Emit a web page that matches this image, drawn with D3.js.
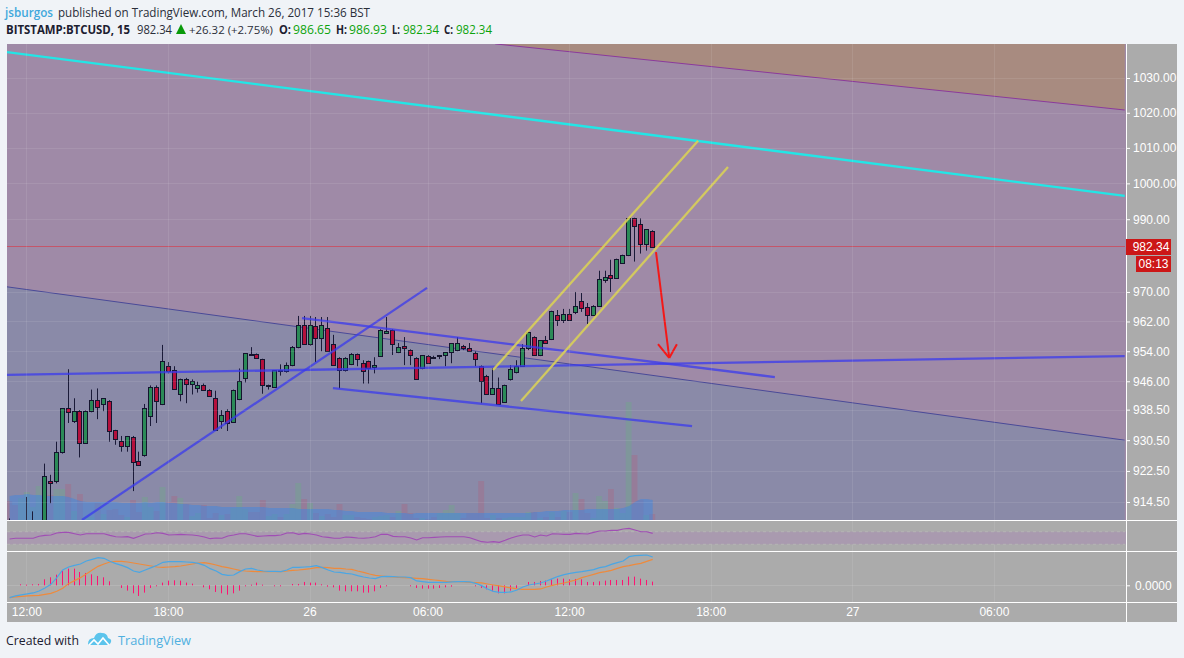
<!DOCTYPE html>
<html><head><meta charset="utf-8">
<script src="https://d3js.org/d3.v7.min.js"></script>
<style>html,body{margin:0;padding:0;background:#f0f3f7}svg{display:block}</style>
</head><body><svg id="c" width="1184" height="658"></svg>
<script>
// bar index 0 = 12:00 on March 25; first bar is index -3
const firstBar = -3;
const opens = [909,906,905,909.8,907,906,908,919.9,919.9,927.5,
938.9,935.5,938.1,929.8,938.1,941,940,940.7,933.1,930.3,
929,931.4,925.1,926.7,936.8,944.6,940,950,948.9,942.7,
946.7,945.4,944.3,945.1,943.8,941.5,935.5,938.1,935.3,941.3,
947,953.2,953.2,951.9,944.9,944.6,949,948.6,950.3,955.1,
961.1,955.9,960.8,957.6,960.3,955.9,952.2,948.9,950.5,953.2,
950.8,951.3,949.7,952.7,958.9,959.7,953.8,955.4,954.3,952.2,
949.4,952.7,952.5,952.9,953,953.8,954.3,955.4,954.8,953.5,
950,947.5,942.7,944.1,940.5,946.7,948.4,950,954.8,957.8,
953,957,957.3,963.8,962.4,964,964.6,967.5,965.9,963.8,
966.2,973.3,974.7,973.9,978,980,990.2,988.8,983,986.65];
const highs = [910.3,908,907,915.8,912.1,909,924.4,921.5,930.1,938.9,
949.2,941.5,938.4,938.3,943.8,944.1,941.5,941,933.2,931.6,
931.6,931.6,927.5,940,944.9,944.9,955.7,951.1,950,946.7,
946.9,946.5,945.9,945.4,943.9,943.5,938.4,938.6,943.8,949.4,
953.5,955.1,953.4,952,945.1,948.9,950.5,951,955.4,963.5,
963.5,963.5,963.2,963.2,963.2,958.4,952.4,952.4,953.5,953.4,
951.6,951.5,952.4,959.9,963.2,959.9,956.2,957.8,954.5,952.4,
953,953,952.8,953,953.8,956.2,957.8,955.7,956.2,954,
950.2,947.7,949.4,947,945.1,950.3,951.6,955.9,959.2,958,
957,958.1,964.9,965.1,965.4,965.4,970,969.7,967,966.4,
975.8,975.8,978.8,979.1,980.2,990.2,990.4,990.2,987.2,986.93];
const lows = [905,904,903,907,905,904,906,914.2,919.3,927,
935,935,926,929.5,937.8,936,938.1,930.1,929.3,927.5,
927.5,917.3,924,926.2,934.2,935,939.7,948.1,943.8,940.7,
940.2,942.5,943,943.8,942,933.2,933.5,932.9,935,941,
945.7,953,952,942.7,943.8,944.3,947.5,948.3,950,954.8,
955.9,955.5,951.1,954,954,950.3,944.1,948.6,950.3,950,
945.4,945.4,948.1,952.5,958.7,953,953.5,950.3,950.3,946.5,
949.2,950.6,952.3,951.9,950,950.8,954,954.3,953.9,950,
940.2,942.7,942.5,940,940.3,946.2,948.1,949.8,954.3,953,
952.7,956,957,960.8,961.6,962.4,964,964.6,961.3,963.5,
966,972.5,970,973.7,977.8,979.8,978.3,980.5,981.3,982.34];
const closes = [908,905,906,910,908,908,921.2,919.5,927.5,938.9,
937.9,938.1,929.8,938.1,941,939.2,941.5,932.9,930.9,929,
931.6,924.9,924.1,938.9,944.6,940.7,951.3,948.6,943.9,946.7,
945.4,946.2,945.1,943.8,942,933.2,937,935,943.8,946.2,
953.5,953,952.2,944.9,945,948.9,948.9,950.3,955.1,961.1,
955.9,961.1,957.6,961.1,954,950.3,948.9,952.2,953.2,951.9,
948.6,949.4,950.3,959.7,959.5,955.9,955.1,954.8,953,946.5,
953,950.8,952.4,953,953.8,956.2,956.2,954.8,954,951.9,
946,942.7,944.1,940,945.1,949.2,950,954.8,959.2,953,
957,956.2,964.9,962.4,964,962.4,966.2,965.7,963.8,966.2,
973.6,974.2,973.9,979.1,980,990.2,988,983,987.2,982.34];
const volumes = [19,15,22,28,13,34,19,25,31,31,
36,9,26,3,3,17,6,10,11,5,
3,20,8,23,13,9,33,18,24,22,
16,4,7,15,2,7,5,6,12,24,
11,8,8,20,4,6,3,6,16,37,
21,17,7,4,6,3,16,5,5,3,
2,1,3,4,5,3,9,16,7,2,
2,1,3,7,10,15,7,2,7,7,
39,2,5,2,2,3,3,3,8,8,
2,3,8,3,9,8,27,21,7,2,
24,19,31,12,7,118,65,20,5,6];
const volumeMA = [24,25,25,26,25,25,24,24,24,24,
23,21,19,18,18,18,18,18,18,17,
17,17,17,18,17,18,18,17,17,16,
16,15,15,14,14,14,13,13,13,13,
13,13,13,13,12,12,12,12,12,11,
11,11,11,11,11,10,10,9,9,8,
8,8,8,8,7,7,7,7,6,7,
7,7,7,7,7,7,7,7,7,7,
7,7,7,7,7,7,7,7,7,8,
8,9,9,9,10,10,10,10,11,11,
11,11,11,11,12,14,18,21,21,20];
const rsi = [46.8,49,49,49,49,55.3,58.4,59.5,65.8,67.9,
67.9,63.7,59.5,63.7,63.7,63.7,63.7,58.4,54.2,53.2,
54.2,49,55.3,62.6,63.7,66.8,64.7,59.5,60.5,61.6,
60.5,59.5,57.4,53.2,47.9,50,49,56.3,59.5,63.7,
63.7,59.5,55.3,56.3,57.4,57.4,59.5,65.8,66.8,61.6,
64.7,62.6,59.5,54.2,52.1,49,
49,53.2,52.1,50,49,51,54.2,61.6,61.6,55.3,
54.2,54.2,50,43.7,51,51,52.1,53.2,54.2,54.2,
54.2,54.2,51,44.7,38.4,36.3,38.4,36.3,42.6,50,
55.3,59.5,59.5,53.2,59.5,56.3,63.7,62.6,61.6,61.6,
64.7,63.7,62.6,67.9,72.1,72.1,74.2,74.2,78.4,80.5,
75.3,70,70,64.7];
const macdLine = [-3.7,-3.2,-2.9,-2.6,-2.3,-1.7,-.8,.3,2.3,4.6,
5.5,6,6.4,7.3,7.8,8.3,8.1,7.2,6.5,6,
5.3,4.3,3.9,4.6,5.3,6,6.9,7.1,7.1,7.1,
7,6.9,6.6,6,5,4.3,3.3,3,3.1,4.1,
4.9,5.1,4.6,4.3,4.2,4.2,4.1,4.6,5.4,5.4,
5.5,5.6,5.9,5.3,4.6,4,
3.9,3.6,3.4,2.9,2.5,2.2,2,2.6,2.7,2.6,
2.5,2.5,2.3,1.3,1.1,.9,.9,.9,.9,1,
1.1,1.1,1,.6,-.1,-1.1,-1.8,-2.1,-2.1,-2,
-1.4,-.5,.1,.4,.7,1.3,2,2.7,3.2,3.6,
3.9,4.1,4.4,4.7,5.3,5.6,6.3,6.8,7.3,8.6,
8.9,9,9.1,8.5];
const signalLine = [-3.7,-3.5,-3.3,-3.2,-3.1,-3,-2.7,-2.4,-1.8,-.9,
.5,1.4,2.3,3.4,4.6,5.7,6.4,7,7.2,7.2,
7,6.7,6.4,6.1,5.8,5.5,5.4,5.5,5.6,5.8,
6.1,6.4,6.7,6.8,6.5,6.1,5.6,5.3,4.9,4.5,
4.3,4.2,4.1,4.1,4.1,4.1,4.1,4.3,4.5,4.6,
4.8,5,5.3,5.4,5.3,5.1,
5.1,4.9,4.8,4.3,3.9,3.4,3,2.8,2.6,2.5,
2.4,2.3,2.2,2.1,2,1.8,1.6,1.4,1.2,1.1,
1.1,1,.9,.8,.7,.4,.1,-.2,-.5,-.8,
-1.1,-1.2,-1.2,-1.2,-1.1,-.5,0,.4,.7,1.2,
1.6,2.3,2.8,3.3,3.8,4.1,4.5,5.1,5.6,5.9,
6.3,6.6,7.2,7.8];
const histogram = [0,0,.3,.2,.3,.4,1.8,2.4,3.2,4.3,
5,5,4,3.7,3.3,2.8,2.4,1.2,0,-.8,
-1.6,-2.4,-3.2,-2.2,-.8,-.3,.8,1.4,1.5,1.4,
.8,.5,0,-.6,-1.2,-2,-2.4,-2.8,-2.4,-1.6,
-.3,.2,.8,.2,0,-.2,-.2,0,.4,.4,
1,.8,.8,.3,-.4,-.6,
-1.6,-1.8,-1.8,-1.8,-2.2,-2.2,-1.8,-.8,-.3,0,
0,0,-.3,-.8,-1,-1,-1,-.8,-.6,-.4,
0,0,0,-.3,-.8,-1.2,-1.8,-2.4,-2.4,-1.6,
-.8,0,1,1,1.3,1.4,1.8,2,2,1.8,
1.9,1.8,1,1,1.2,1.4,1.6,1.6,1.6,2.6,
2.6,2,1.6,1.1];
const priceTicks = [1030,1020,1010,1000,990,970,962,954,946,938.5,930.5,922.5,914.5];
const timeTickBars = [0,24,48,68,92,116,140,164];
const timeTickLabels = ["12:00","18:00","26","06:00","12:00","18:00","27","06:00"];
// drawings: [barA, priceA, barB, priceB]
const cyanLine = [-3.44,1037.5,186,996.5];
const upperBoundary = [79.3,1039.9,186,1020.8];
const lowerBoundary = [-3.44,971.4,186,930.5];
const blueLines = [[-3.44,947.7,186,952.7],[9.27,909.9,67.75,971.1],[46.56,962.9,126.7,947.1],[51.8,944.2,112.67,934.2]];
const yellowLines = [[78.93,949,113.7,1012],[83.68,940.8,118.76,1004.6]];
const arrowLines = [[106.56,980.9,108.8,952.2],[106.9,955.9,108.8,952.2],[110.1,955.9,108.8,952.2]];
const lastPrice = 982.34, countdown = "08:13";

const L=7,R=1125,AX=1177,T=44,MB=520,BOT=622;
const svg=d3.select("#c");
const x=d3.scaleLinear().domain([0,100]).range([27.3,617.3]);
const y=d3.scaleLog().domain([1030,914.5]).range([78,502]);
const yVol=d3.scaleLinear().domain([0,100]).range([520,420]);
const yRsi=d3.scaleLinear().domain([30,70]).range([544.3,531.7]);
const yMacd=d3.scaleLinear().domain([0,10]).range([585.3,552]);
const bars=opens.map((o,k)=>({i:k+firstBar,o,h:highs[k],l:lows[k],c:closes[k],v:volumes[k],ma:volumeMA[k],rsi:rsi[k],m:macdLine[k],s:signalLine[k],hist:histogram[k]}));

svg.append("rect").attr("x",L).attr("y",T).attr("width",AX-L).attr("height",BOT-T).attr("fill","#ababab");
const defs=svg.append("defs");
defs.append("clipPath").attr("id","main").append("rect").attr("x",L).attr("y",T).attr("width",R-L+1).attr("height",MB-T);
defs.append("clipPath").attr("id","full").append("rect").attr("x",L).attr("y",T).attr("width",R-L+1).attr("height",BOT-T);
const main=svg.append("g").attr("clip-path","url(#main)");
main.append("rect").attr("x",L).attr("y",T).attr("width",R-L+1).attr("height",MB-T).attr("fill","#9f8aa7");
const seg=d=>d3.line()([[x(d[0]),y(d[1])],[x(d[2]),y(d[3])]]);
const poly=(d,yEdge)=>{const a=[x(d[0]),y(d[1])],b=[x(d[2]),y(d[3])];
  return d3.line()([a,b,[b[0],yEdge],[a[0],yEdge]])+"Z";};
main.append("path").attr("d",poly(upperBoundary,T-300)).attr("fill","#a88b80");
main.append("path").attr("d",poly(lowerBoundary,MB+300)).attr("fill","#8a8aa8");

// grid
const grid=svg.append("g").attr("clip-path","url(#full)");
grid.selectAll(".v").data(timeTickBars).join("line").attr("x1",d=>Math.round(x(d))-.5).attr("x2",d=>Math.round(x(d))-.5)
  .attr("y1",T).attr("y2",602).attr("stroke","#fff").attr("stroke-opacity",.09);
grid.selectAll(".h").data(priceTicks).join("line").attr("x1",L).attr("x2",R).attr("y1",d=>Math.round(y(d))+.5).attr("y2",d=>Math.round(y(d))+.5)
  .attr("stroke","#fff").attr("stroke-opacity",.09);
grid.append("line").attr("x1",L).attr("x2",R).attr("y1",Math.round(yMacd(0))+.5).attr("y2",Math.round(yMacd(0))+.5).attr("stroke","#fff").attr("stroke-opacity",.12);

// volume
main.selectAll(".vol").data(bars).join("rect").attr("x",d=>x(d.i)-3.4).attr("width",5.9)
  .attr("y",d=>yVol(d.v)).attr("height",d=>yVol(0)-yVol(d.v))
  .attr("fill",d=>d.c>=d.o?"#6fa88a":"#a86a85").attr("fill-opacity",.42);
main.append("path").attr("d",d3.area().x(d=>x(d.i)).y0(yVol(0)).y1(d=>yVol(d.ma))(bars)).attr("fill","#3f86e0").attr("fill-opacity",.5);

// drawings under candles
main.append("line").attr("x1",L).attr("x2",R).attr("y1",Math.round(y(lastPrice))-.5).attr("y2",Math.round(y(lastPrice))-.5).attr("stroke","#c4566a");
main.append("path").attr("d",seg(upperBoundary)).attr("stroke","#8b3a9c").attr("fill","none");
main.append("path").attr("d",seg(lowerBoundary)).attr("stroke","#4a4a98").attr("fill","none");

// candles
const col=d=>d.c>=d.o?"#2b8a57":"#b4103c";
main.selectAll(".wick").data(bars).join("line").attr("x1",d=>Math.round(x(d.i))-.5).attr("x2",d=>Math.round(x(d.i))-.5)
  .attr("y1",d=>y(d.h)).attr("y2",d=>y(d.l)).attr("stroke","#1a1a38");
main.selectAll(".body").data(bars).join("rect").attr("x",d=>Math.round(x(d.i))-2.5).attr("width",4)
  .attr("y",d=>Math.round(y(Math.max(d.o,d.c)))+.5).attr("height",d=>Math.max(1,Math.round(y(Math.min(d.o,d.c)))-Math.round(y(Math.max(d.o,d.c)))))
  .attr("fill",col).attr("stroke","#14142e");

// trend lines
main.append("path").attr("d",seg(cyanLine)).attr("stroke","#22e6e6").attr("stroke-width",2.4).attr("fill","none");
main.selectAll(".bl").data(blueLines).join("path").attr("d",seg).attr("stroke","#3a3aee").attr("stroke-opacity",.75).attr("stroke-width",2.3).attr("fill","none");
main.selectAll(".yl").data(yellowLines).join("path").attr("d",seg).attr("stroke","#d8cf58").attr("stroke-opacity",.9).attr("stroke-width",2.3).attr("fill","none");
main.selectAll(".ar").data(arrowLines).join("path").attr("d",seg).attr("stroke","#f41818").attr("stroke-width",2).attr("fill","none");

// RSI pane
const rsiG=svg.append("g");
rsiG.append("rect").attr("x",L).attr("y",yRsi(70)).attr("width",R-L+1).attr("height",yRsi(30)-yRsi(70)).attr("fill","#a99aaf");
[70,30].forEach(v=>rsiG.append("line").attr("x1",L).attr("x2",R).attr("y1",yRsi(v)).attr("y2",yRsi(v)).attr("stroke","#b4b4b4").attr("stroke-dasharray","3 3"));
rsiG.append("path").attr("d",d3.line().x(d=>x(d.i)).y(d=>yRsi(d.rsi))(bars)).attr("fill","none").attr("stroke","#a04eb4").attr("stroke-width",1.1);

// MACD pane
const mG=svg.append("g");
mG.selectAll(".hist").data(bars.filter(d=>d.hist!==0)).join("rect")
  .attr("x",d=>Math.round(x(d.i))-1).attr("width",1)
  .attr("y",d=>Math.min(yMacd(0),yMacd(d.hist))).attr("height",d=>Math.max(1,Math.abs(yMacd(d.hist)-yMacd(0))))
  .attr("fill","#ff1272");
mG.append("path").attr("d",d3.line().x(d=>x(d.i)).y(d=>yMacd(d.s))(bars)).attr("fill","none").attr("stroke","#ee8a3c").attr("stroke-width",1.2);
mG.append("path").attr("d",d3.line().x(d=>x(d.i)).y(d=>yMacd(d.m))(bars)).attr("fill","none").attr("stroke","#4aa6e4").attr("stroke-width",1.2);

// dividers
[[L,AX,520.5,520.5],[L,AX,551.5,551.5],[L,AX,602.5,602.5],[1126.5,1126.5,T,BOT]].forEach(s=>{
  svg.append("line").attr("x1",s[0]).attr("x2",s[1]).attr("y1",s[2]).attr("y2",s[3]).attr("stroke","#fff").attr("stroke-width",1);});

// axes
const fmtP=d=>d.toFixed(2);
const axisFont="'Liberation Sans',Arial,sans-serif";
const ga=svg.append("g").attr("transform","translate(1127,0)").call(d3.axisRight(y).tickValues(priceTicks).tickFormat(fmtP).tickSize(3).tickPadding(3));
ga.select(".domain").remove();
ga.selectAll("line").attr("stroke","#fff");
ga.selectAll("text").attr("fill","#fff").style("font","12px "+axisFont);
const gm=svg.append("g").attr("transform","translate(1127,0)").call(d3.axisRight(yMacd).tickValues([0]).tickFormat(d=>d.toFixed(4)).tickSize(3).tickPadding(5));
gm.select(".domain").remove();gm.selectAll("line").attr("stroke","#fff");gm.selectAll("text").attr("fill","#fff").style("font","12px "+axisFont);
const gx=svg.append("g").attr("transform","translate(-1,602)").call(d3.axisBottom(x).tickValues(timeTickBars).tickFormat((d,k)=>timeTickLabels[k]).tickSize(0).tickPadding(5));
gx.select(".domain").remove();gx.selectAll("text").attr("fill","#fff").style("font","12px "+axisFont);

// last price tags
svg.append("rect").attr("x",1126).attr("y",239).attr("width",45).attr("height",16).attr("fill","#cc1717");
svg.append("text").attr("x",1151).attr("y",251).attr("text-anchor","middle").attr("fill","#fff").style("font","12px "+axisFont).text(lastPrice.toFixed(2));
svg.append("rect").attr("x",1136).attr("y",256).attr("width",35).attr("height",16).attr("fill","#cc1717");
svg.append("text").attr("x",1153.5).attr("y",268).attr("text-anchor","middle").attr("fill","#fff").style("font","12px "+axisFont).text(countdown);

// header
const hf="'Open Sans','Noto Sans',sans-serif";
const put=(xp,xe,yb,t,fill,w,fs)=>svg.append("text").attr("x",xp).attr("y",yb).attr("fill",fill).attr("font-weight",w||400)
  .attr("textLength",xe-xp).attr("lengthAdjust","spacingAndGlyphs").style("font-family",hf).style("font-size",(fs||12.5)+"px").text(t);
const dk="#1c2030",tx="#2a2e39",gn="#0ca30c";
put(5,53,17,"jsburgos","#41a8dc",600);
put(58,370,17,"published on TradingView.com, March 26, 2017 15:36 BST",tx);
put(6,130,34,"BITSTAMP:BTCUSD, 15",dk,700,11.5);
put(137,172,34,"982.34",tx);
svg.append("path").attr("d",d3.line()([[176,34],[186,34],[181,24]])+"Z").attr("fill","#0a9a0a");
put(189,273,34,"+26.32 (+2.75%)",tx,400,11);
put(279,291,34,"O:",dk,700);put(293,331,34,"986.65",gn);
put(336,347,34,"H:",dk,700);put(349,387,34,"986.93",gn);
put(392,400,34,"L:",dk,700);put(403,439,34,"982.34",gn);
put(444,453,34,"C:",dk,700);put(456,492,34,"982.34",gn);

// footer
put(6,79,645,"Created with",dk);
svg.append("path").attr("d","M88 644 q0 -6 6 -6 q2 -6 8 -5 q5 0 6 5 q4 1 3 4 q-1 3 -4 3 l-16 0 q-3 0 -3 -1Z").attr("fill","#5cc4ec");
svg.append("path").attr("d","M89 645 l5 -5 l4 4 l5 -6 l6 7").attr("fill","none").attr("stroke","#fff").attr("stroke-width",1.6);
put(118,191,645,"TradingView","#4fb0e0");
</script></body></html>
